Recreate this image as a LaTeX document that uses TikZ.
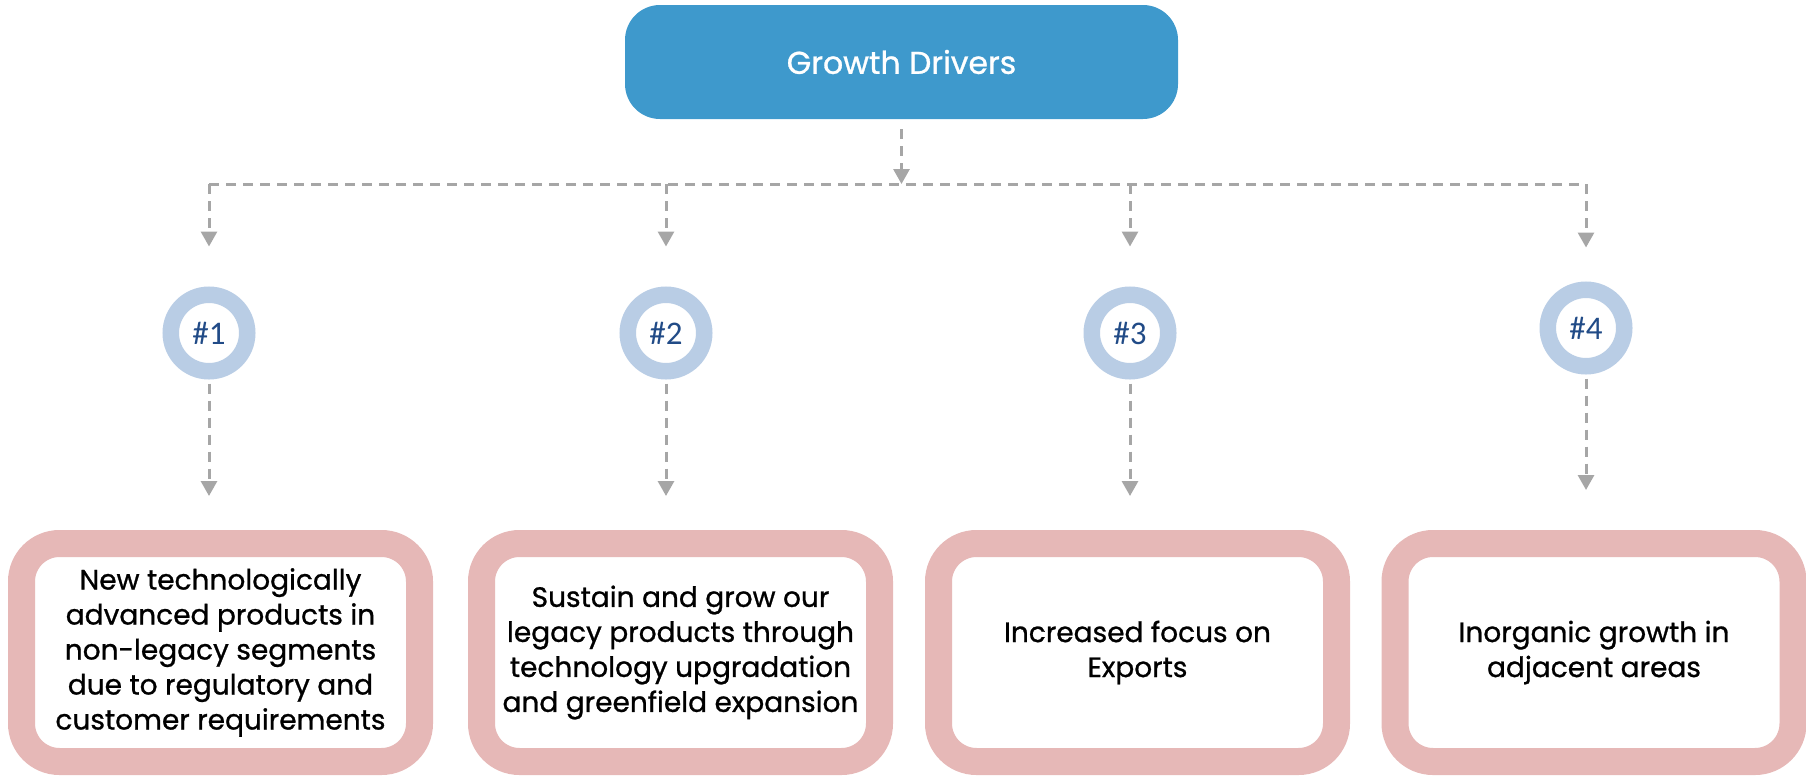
\documentclass[tikz,border=0pt]{standalone}
\usepackage{fontspec}
\setmainfont{Poppins}[FakeBold=0.9]
\newfontfamily\numfont{Carlito}
\usetikzlibrary{arrows.meta}
\definecolor{topblue}{RGB}{62,153,204}
\definecolor{boxpink}{RGB}{230,184,183}
\definecolor{ringblue}{RGB}{185,205,229}
\definecolor{numblue}{RGB}{33,75,135}
\definecolor{conngray}{RGB}{166,166,166}
\tikzset{
  topbox/.style={fill=topblue, rounded corners=35pt, minimum width=553pt, minimum height=114pt, inner sep=0pt,
    text=white, font=\fontsize{31.5}{38}\selectfont},
  ringnode/.style={circle, draw=ringblue, line width=16.5pt, fill=white, minimum size=76.5pt, inner sep=0pt,
    text=numblue, font=\numfont\fontsize{33}{38}\selectfont},
  drvbox/.style={draw=boxpink, line width=27pt, fill=white, rounded corners=38pt, minimum width=398pt,
    minimum height=218pt, inner sep=0pt, align=center, font=\fontsize{28}{35}\selectfont},
  dashline/.style={draw=conngray, line width=3pt, dash pattern=on 10pt off 7pt},
  conn/.style={dashline, -{Triangle[width=16pt,length=15pt]}, color=conngray},
}
\begin{document}
\begin{tikzpicture}[x=1pt,y=-1pt]
\useasboundingbox (0,0) rectangle (1806,777);
\node[topbox] (top) at (901.5,62) {Growth Drivers};
\coordinate (hub) at (901.5,184);
\coordinate (h1) at (209,184);
\coordinate (h2) at (666,184);
\coordinate (h3) at (1130,184);
\coordinate (h4) at (1586,184);
\node[ringnode] (c1) at (209,333) {\#1};
\node[ringnode] (c2) at (666,333) {\#2};
\node[ringnode] (c3) at (1130,333) {\#3};
\node[ringnode] (c4) at (1586,328) {\#4};
\node[drvbox] (b1) at (220.5,652.5) {New technologically\\advanced products in\\non-legacy segments\\due to regulatory and\\customer requirements};
\node[drvbox] (b2) at (680.5,652.5) {Sustain and grow our\\legacy products through\\technology upgradation\\and greenfield expansion};
\node[drvbox] (b3) at (1137.5,652.5) {Increased focus on\\Exports};
\node[drvbox] (b4) at (1594,652.5) {Inorganic growth in\\adjacent areas};
\draw[conn, shorten <=10pt] (top.south) -- (hub);
\draw[dashline] (h1) -- (h4);
\draw[conn, shorten >=40pt] (h1) -- (c1.north);
\draw[conn, shorten >=40pt] (h2) -- (c2.north);
\draw[conn, shorten >=40pt] (h3) -- (c3.north);
\draw[conn, shorten >=34pt] (h4) -- (c4.north);
\draw[conn, shorten <=4pt, shorten >=34pt] (c1.south) -- (c1.south |- b1.north);
\draw[conn, shorten <=4pt, shorten >=34pt] (c2.south) -- (c2.south |- b2.north);
\draw[conn, shorten <=4pt, shorten >=34pt] (c3.south) -- (c3.south |- b3.north);
\draw[conn, shorten <=4pt, shorten >=40pt] (c4.south) -- (c4.south |- b4.north);
\end{tikzpicture}
\end{document}
